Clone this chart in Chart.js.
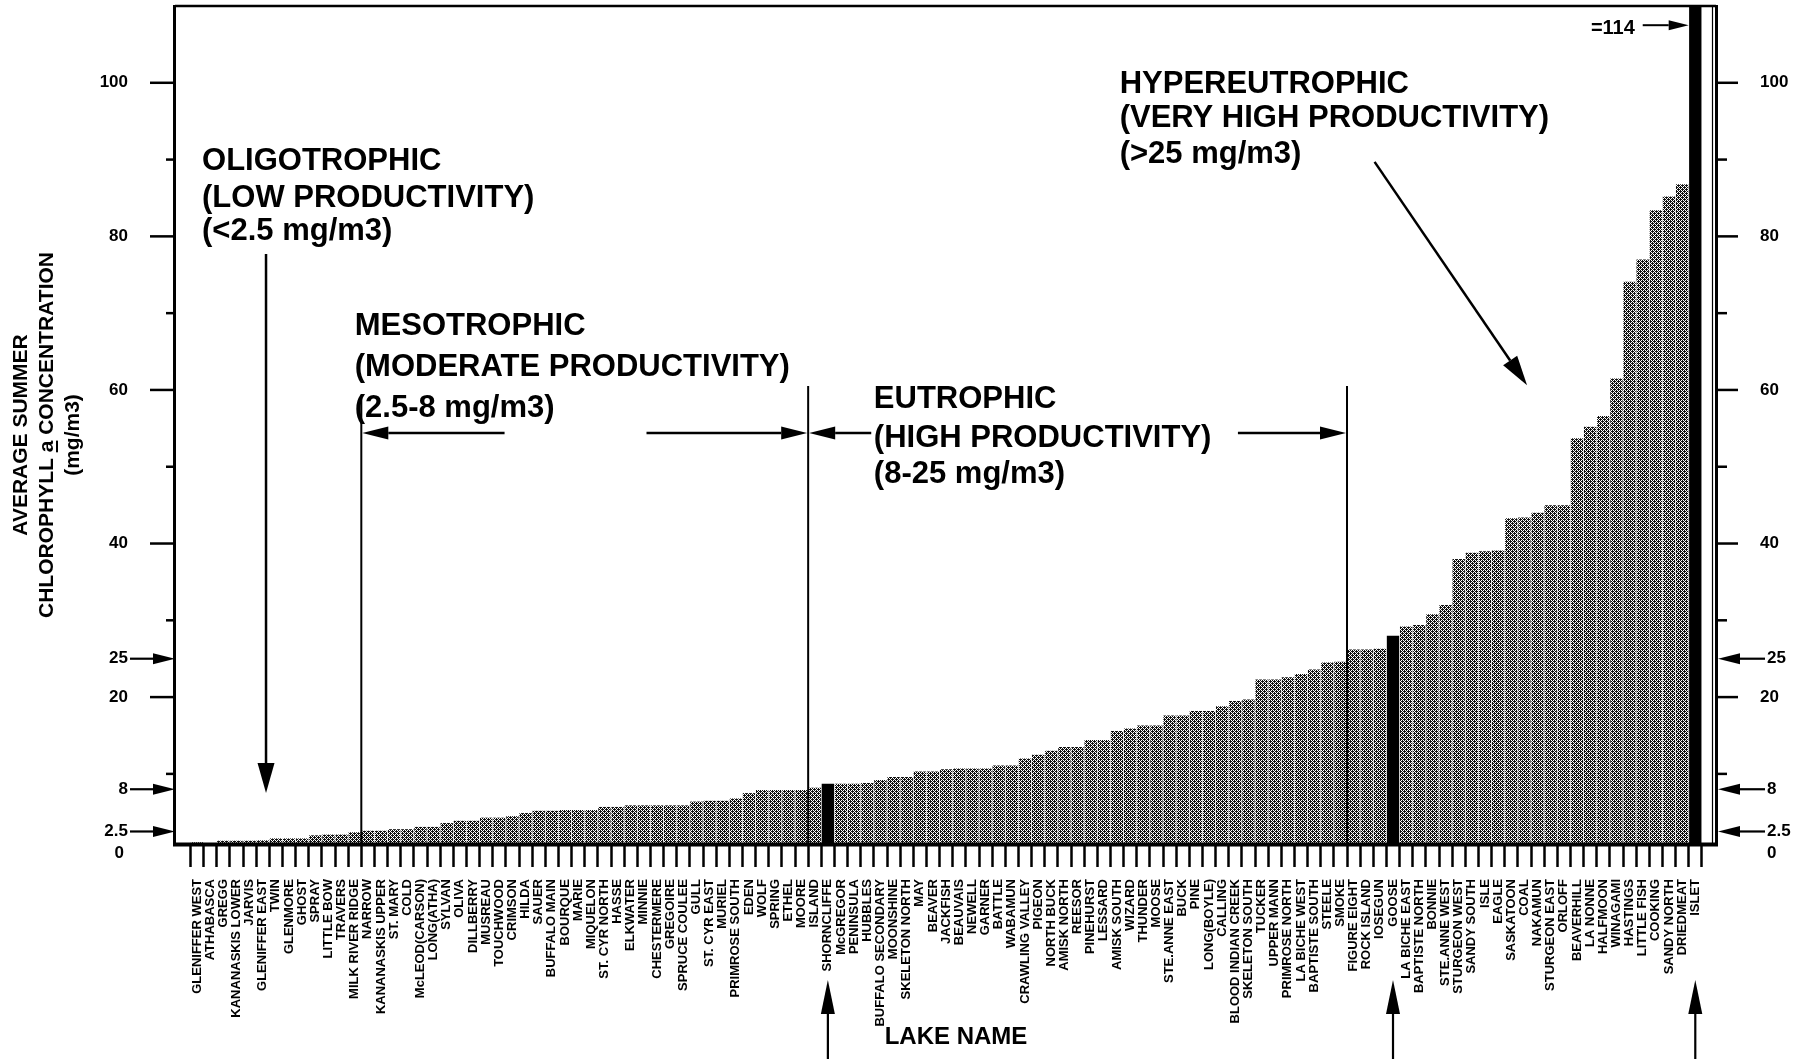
<!DOCTYPE html>
<html><head><meta charset="utf-8">
<script src="https://cdn.jsdelivr.net/npm/chart.js@4/dist/chart.umd.min.js"></script>
<style>html,body{margin:0;padding:0;background:#fff;}#wrap{width:1811px;height:1059px;}</style>
</head><body><div id="wrap"><canvas id="c" width="1811" height="1059"></canvas></div>
<script>
const lakeNames = ['GLENIFFER WEST','ATHABASCA','GREGG','KANANASKIS LOWER','JARVIS','GLENIFFER EAST','TWIN','GLENMORE','GHOST','SPRAY','LITTLE BOW','TRAVERS','MILK RIVER RIDGE','NARROW','KANANASKIS UPPER','ST. MARY','COLD','McLEOD(CARSON)','LONG(ATHA)','SYLVAN','OLIVA','DILLBERRY','MUSREAU','TOUCHWOOD','CRIMSON','HILDA','SAUER','BUFFALO MAIN','BOURQUE','MARIE','MIQUELON','ST. CYR NORTH','HASSE','ELKWATER','MINNIE','CHESTERMERE','GREGOIRE','SPRUCE COULEE','GULL','ST. CYR EAST','MURIEL','PRIMROSE SOUTH','EDEN','WOLF','SPRING','ETHEL','MOORE','ISLAND','SHORNCLIFFE','McGREGOR','PENINSULA','HUBBLES','BUFFALO SECONDARY','MOONSHINE','SKELETON NORTH','MAY','BEAVER','JACKFISH','BEAUVAIS','NEWELL','GARNER','BATTLE','WABAMUN','CRAWLING VALLEY','PIGEON','NORTH BUCK','AMISK NORTH','REESOR','PINEHURST','LESSARD','AMISK SOUTH','WIZARD','THUNDER','MOOSE','STE.ANNE EAST','BUCK','PINE','LONG(BOYLE)','CALLING','BLOOD INDIAN CREEK','SKELETON SOUTH','TUCKER','UPPER MANN','PRIMROSE NORTH','LA BICHE WEST','BAPTISTE SOUTH','STEELE','SMOKE','FIGURE EIGHT','ROCK ISLAND','IOSEGUN','GOOSE','LA BICHE EAST','BAPTISTE NORTH','BONNIE','STE.ANNE WEST','STURGEON WEST','SANDY SOUTH','ISLE','EAGLE','SASKATOON','COAL','NAKAMUN','STURGEON EAST','ORLOFF','BEAVERHILL','LA NONNE','HALFMOON','WINAGAMI','HASTINGS','LITTLE FISH','COOKING','SANDY NORTH','DRIEDMEAT','ISLET'];
const chlorophyll = [1.1,1.0,1.3,1.3,1.3,1.35,1.6,1.6,1.6,2.0,2.1,2.1,2.4,2.6,2.6,2.8,2.8,3.1,3.1,3.6,3.9,3.9,4.3,4.3,4.5,4.9,5.2,5.2,5.3,5.3,5.3,5.7,5.7,5.9,5.9,5.9,5.9,5.9,6.4,6.5,6.5,6.8,7.5,7.9,7.9,7.9,7.9,8.2,8.7,8.7,8.7,8.8,9.2,9.6,9.6,10.3,10.3,10.6,10.7,10.7,10.7,11.1,11.1,12.0,12.5,13.0,13.5,13.5,14.4,14.4,15.6,15.9,16.3,16.3,17.6,17.6,18.2,18.2,18.8,19.5,19.7,22.3,22.3,22.6,23.0,23.6,24.5,24.6,26.2,26.2,26.3,28.0,29.2,29.4,30.8,32.0,38.0,38.8,39.0,39.1,43.3,43.4,44.0,45.0,45.0,53.7,55.2,56.6,61.5,74.1,77.0,83.4,85.2,86.8,114];
const highlightedLakes = ['SHORNCLIFFE','GOOSE','ISLET'];
const yMajorTicks = [20, 40, 60, 80, 100];
const yMinorTicks = [10, 30, 50, 70, 90];
const yArrowTicks = [2.5, 8, 25];
const yZeroTick = [0];
const yTitleLines = ['AVERAGE SUMMER', 'CHLOROPHYLL a CONCENTRATION', '(mg/m3)'];
const xTitle = 'LAKE NAME';
const offScaleNote = '=114';

const NARROW = '"Liberation Sans Narrow", "Liberation Sans", Arial, sans-serif';
const WIDE = '"Liberation Sans", Arial, sans-serif';

// halftone fill like the scanned figure
const pc = document.createElement('canvas'); pc.width = 4; pc.height = 4;
const pg = pc.getContext('2d');
pg.fillStyle = '#111'; pg.fillRect(0,0,4,4); pg.fillStyle = '#fff';
[[1,0],[3,0],[0,1],[1,2],[3,2],[2,3]].forEach(p => pg.fillRect(p[0], p[1], 1, 1));
const canvas = document.getElementById('c');
const hatch = canvas.getContext('2d').createPattern(pc, 'repeat');

function arrow(c, x1, y1, x2, y2, hl, hw, lw) {
  const ang = Math.atan2(y2 - y1, x2 - x1);
  const bx = x2 - hl * Math.cos(ang), by = y2 - hl * Math.sin(ang);
  c.save(); c.strokeStyle = '#000'; c.fillStyle = '#000'; c.lineWidth = lw;
  c.beginPath(); c.moveTo(x1, y1); c.lineTo(bx, by); c.stroke();
  c.beginPath(); c.moveTo(x2, y2);
  c.lineTo(bx + hw / 2 * Math.sin(ang), by - hw / 2 * Math.cos(ang));
  c.lineTo(bx - hw / 2 * Math.sin(ang), by + hw / 2 * Math.cos(ang));
  c.closePath(); c.fill(); c.restore();
}
function seg(c, x1, y1, x2, y2, lw) {
  c.save(); c.strokeStyle = '#000'; c.lineWidth = lw;
  c.beginPath(); c.moveTo(x1, y1); c.lineTo(x2, y2); c.stroke(); c.restore();
}

// annotation layout in data units (bar index, chlorophyll value)
const classText = [
  { i: 0.38, lines: ['OLIGOTROPHIC', '(LOW PRODUCTIVITY)', '(<2.5 mg/m3)'], v: [89.7, 84.9, 80.6] },
  { i: 12.0, lines: ['MESOTROPHIC', '(MODERATE PRODUCTIVITY)', '(2.5-8 mg/m3)'], v: [68.3, 62.9, 57.6] },
  { i: 51.5, lines: ['EUTROPHIC', '(HIGH PRODUCTIVITY)', '(8-25 mg/m3)'], v: [58.7, 53.7, 49.0] },
  { i: 70.2, lines: ['HYPEREUTROPHIC', '(VERY HIGH PRODUCTIVITY)', '(>25 mg/m3)'], v: [99.8, 95.3, 90.7] }
];
const classBoundaries = [12.5, 46.5, 87.5];
const boundaryTops = [59.0, 60.5, 60.5];

const decor = {
  id: 'decor',
  afterDraw(chart) {
    const c = chart.ctx, a = chart.chartArea, xs = chart.scales.x, ys = chart.scales.y;
    const px = i => xs.getPixelForValue(i), py = v => ys.getPixelForValue(v);
    c.save();
    // frame
    seg(c, a.left - 1, a.top, a.right + 1, a.top, 2.5);
    seg(c, a.left - 1.5, a.top - 1, a.left - 1.5, a.bottom + 3, 3);
    seg(c, a.right + 1.5, a.top - 1, a.right + 1.5, a.bottom + 3, 3);
    seg(c, a.right - 2.5, a.top, a.right - 2.5, a.bottom, 1.2);
    seg(c, a.left - 3, a.bottom + 1.5, a.right + 3, a.bottom + 1.5, 4);

    // y axis ticks both sides
    c.fillStyle = '#000'; c.font = 'bold 17px ' + WIDE; c.textBaseline = 'middle';
    yMajorTicks.forEach(v => {
      const y = py(v);
      seg(c, a.left - 26, y, a.left, y, 2.5);
      seg(c, a.right, y, a.right + 23, y, 2.5);
      c.textAlign = 'right'; c.fillText(String(v), a.left - 48, y);
      c.textAlign = 'left'; c.fillText(String(v), a.right + 45, y);
    });
    yMinorTicks.forEach(v => {
      const y = py(v);
      seg(c, a.left - 10, y, a.left, y, 2.5);
      seg(c, a.right, y, a.right + 12, y, 2.5);
    });
    yArrowTicks.forEach(v => {
      const y = py(v);
      arrow(c, a.left - 46, y, a.left - 1, y, 22, 11, 2.2);
      arrow(c, a.right + 50, y, a.right + 3, y, 22, 11, 2.2);
      c.textAlign = 'right'; c.fillText(String(v), a.left - 48, y);
      c.textAlign = 'left'; c.fillText(String(v), a.right + 52, y);
    });
    yZeroTick.forEach(v => {
      const y = py(v) + 3;
      c.textAlign = 'right'; c.fillText(String(v), a.left - 52, y);
      c.textAlign = 'left'; c.fillText(String(v), a.right + 52, y);
    });

    // y axis title (three rotated lines)
    c.font = 'bold 21px ' + NARROW;
    const cy = 435, xsT = [21, 47, 73];
    yTitleLines.forEach((t, k) => {
      c.save(); c.translate(xsT[k], cy); c.rotate(-Math.PI / 2);
      c.textAlign = 'center'; c.textBaseline = 'middle'; c.fillText(t, 0, 0);
      if (t.indexOf(' a ') > 0) {
        const w = c.measureText(t).width;
        const pre = c.measureText(t.slice(0, t.indexOf(' a ') + 1)).width;
        const aw = c.measureText('a').width;
        c.fillRect(-w / 2 + pre, 9, aw, 2);
      }
      c.restore();
    });

    // x axis title
    c.font = 'bold 24px ' + NARROW; c.textAlign = 'center'; c.textBaseline = 'middle';
    c.fillText(xTitle, 956, 1037);

    // trophic class text
    c.font = 'bold 31px ' + WIDE; c.textAlign = 'left'; c.textBaseline = 'middle';
    classText.forEach(g => g.lines.forEach((t, k) => c.fillText(t, px(g.i), py(g.v[k]))));
    // boundaries
    classBoundaries.forEach((b, k) => seg(c, px(b), py(boundaryTops[k]), px(b), a.bottom, 2));
    // arrows
    arrow(c, px(5.25), py(77.7), px(5.25), py(7.5), 30, 17, 2.5);
    const ay = py(54.4);
    arrow(c, px(23.4), ay, px(12.5) + 1, ay, 26, 13, 2.5);
    arrow(c, px(34.2), ay, px(46.5) - 1, ay, 26, 13, 2.5);
    arrow(c, px(51.3), ay, px(46.5) + 1, ay, 26, 13, 2.5);
    arrow(c, px(79.2), ay, px(87.5) - 1, ay, 26, 13, 2.5);
    arrow(c, px(89.6), py(89.7), px(101.2), py(60.6), 30, 17, 2.5);

    // off-scale note
    const islet = lakeNames.indexOf('ISLET');
    c.font = 'bold 20px ' + WIDE; c.textAlign = 'right';
    c.fillText(offScaleNote, px(109.4), py(107.1));
    arrow(c, px(110.0), py(107.5), px(islet - 0.5), py(107.5), 20, 10, 2);

    // highlighted lakes arrows under the axis
    highlightedLakes.forEach(n => {
      const x = px(lakeNames.indexOf(n));
      arrow(c, x, chart.height, x, 980, 34, 14, 2.2);
    });
    c.restore();
  }
};

new Chart(canvas, {
  type: 'bar',
  data: {
    datasets: [{
      data: lakeNames.map((n, i) => ({ x: i, y: chlorophyll[i] })),
      backgroundColor: ctx => highlightedLakes.includes(lakeNames[ctx.dataIndex]) ? '#000' : hatch,
      borderWidth: 0,
      barPercentage: 0.94,
      categoryPercentage: 1
    }]
  },
  options: {
    responsive: false, animation: false, devicePixelRatio: 1,
    layout: { padding: { left: 176, right: 96, top: 6, bottom: 0 } },
    plugins: { legend: { display: false }, tooltip: { enabled: false } },
    scales: {
      x: {
        type: 'linear', min: -1.6, max: 115.5, bounds: 'data', offset: false,
        afterBuildTicks: s => { s.ticks = lakeNames.map((_, i) => ({ value: i })); },
        afterFit: s => { s.height = 216; },
        ticks: {
          autoSkip: false, minRotation: 90, maxRotation: 90, padding: 12, color: '#000',
          font: { family: NARROW, size: 13, weight: 'bold' },
          callback: v => lakeNames[v] !== undefined ? lakeNames[v] : ''
        },
        grid: { display: true, drawOnChartArea: false, drawTicks: true, tickLength: 24, tickWidth: 2.5, tickColor: '#000', color: '#000' },
        border: { display: false }
      },
      y: { type: 'linear', min: 1, max: 110, display: false }
    }
  },
  plugins: [decor]
});
</script></body></html>
